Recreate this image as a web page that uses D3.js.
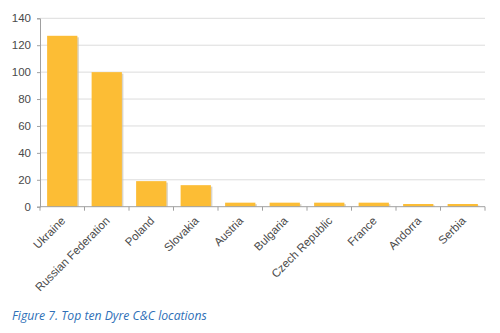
<!DOCTYPE html>
<html><head><meta charset="utf-8">
<script src="https://cdn.jsdelivr.net/npm/d3@7"></script>
<style>body{margin:0;background:#fff}svg{display:block}</style>
</head><body>
<svg id="c" width="500" height="333"></svg>
<script>
const categories = ["Ukraine","Russian Federation","Poland","Slovakia","Austria","Bulgaria","Czech Republic","France","Andorra","Serbia"];
const values = [127,100,19,16,3,3,3,3,2,2];
const yTicks = [0,20,40,60,80,100,120,140];

const svg = d3.select("#c");
const m = {l:40, r:485, t:18.3, b:206.7};
const x = d3.scaleBand().domain(categories).range([m.l, m.r]).paddingInner(0.32).paddingOuter(0.16);
const y = d3.scaleLinear().domain([0,140]).range([m.b, m.t]);

// gridlines
svg.append("g").selectAll("line").data(yTicks.filter(d=>d>0)).join("line")
  .attr("x1", m.l).attr("x2", m.r).attr("y1", d=>y(d)).attr("y2", d=>y(d))
  .attr("stroke", "#dcdcdc").attr("stroke-width", 1);

// bar shadows
svg.append("g").selectAll("rect").data(values).join("rect")
  .attr("x", (d,i)=>x(categories[i]) + 1.5).attr("y", d=>y(d) + 1.5)
  .attr("width", x.bandwidth()).attr("height", d=>m.b - y(d) - 1.5)
  .attr("fill", "#c9c2b0").attr("opacity", 0.7);
// bars
svg.append("g").selectAll("rect").data(values).join("rect")
  .attr("x", (d,i)=>x(categories[i])).attr("y", d=>y(d))
  .attr("width", x.bandwidth()).attr("height", d=>m.b - y(d))
  .attr("fill", "#fcbd35");

// y axis
const ya = svg.append("g").attr("transform", `translate(${m.l},0)`)
  .call(d3.axisLeft(y).tickValues(yTicks).tickSize(3).tickPadding(6));
ya.select(".domain").attr("stroke", "#a0a0a0");
ya.selectAll(".tick line").attr("stroke", "#a0a0a0");
ya.selectAll("text").attr("fill", "#4a4a4a").style("font-family", "Liberation Sans, Arial, sans-serif").style("font-size", "11.5px");

// x axis
const xa = svg.append("g").attr("transform", `translate(0,${m.b})`);
xa.append("line").attr("x1", m.l).attr("x2", m.r).attr("stroke", "#a0a0a0");
const bounds = d3.range(categories.length + 1).map(i => m.l + i * (m.r - m.l) / categories.length);
xa.selectAll(".tk").data(bounds).join("line").attr("class","tk")
  .attr("x1", d=>d).attr("x2", d=>d).attr("y1", 0).attr("y2", 4).attr("stroke", "#a0a0a0");
xa.selectAll("text").data(categories).join("text")
  .attr("transform", d=>`translate(${x(d) + x.bandwidth()/2 + 1},${12}) rotate(-45)`)
  .attr("text-anchor", "end").attr("dy", "0.35em")
  .attr("fill", "#4a4a4a").style("font-family", "Liberation Sans, Arial, sans-serif").style("font-size", "11.5px")
  .text(d=>d);

// caption
svg.append("text").attr("x", 12).attr("y", 320)
  .attr("fill", "#2e6fb7").style("font-family", "Open Sans, Liberation Sans, sans-serif")
  .style("font-style", "italic").style("font-size", "12.2px")
  .text("Figure 7. Top ten Dyre C&C locations");
</script>
</body></html>
